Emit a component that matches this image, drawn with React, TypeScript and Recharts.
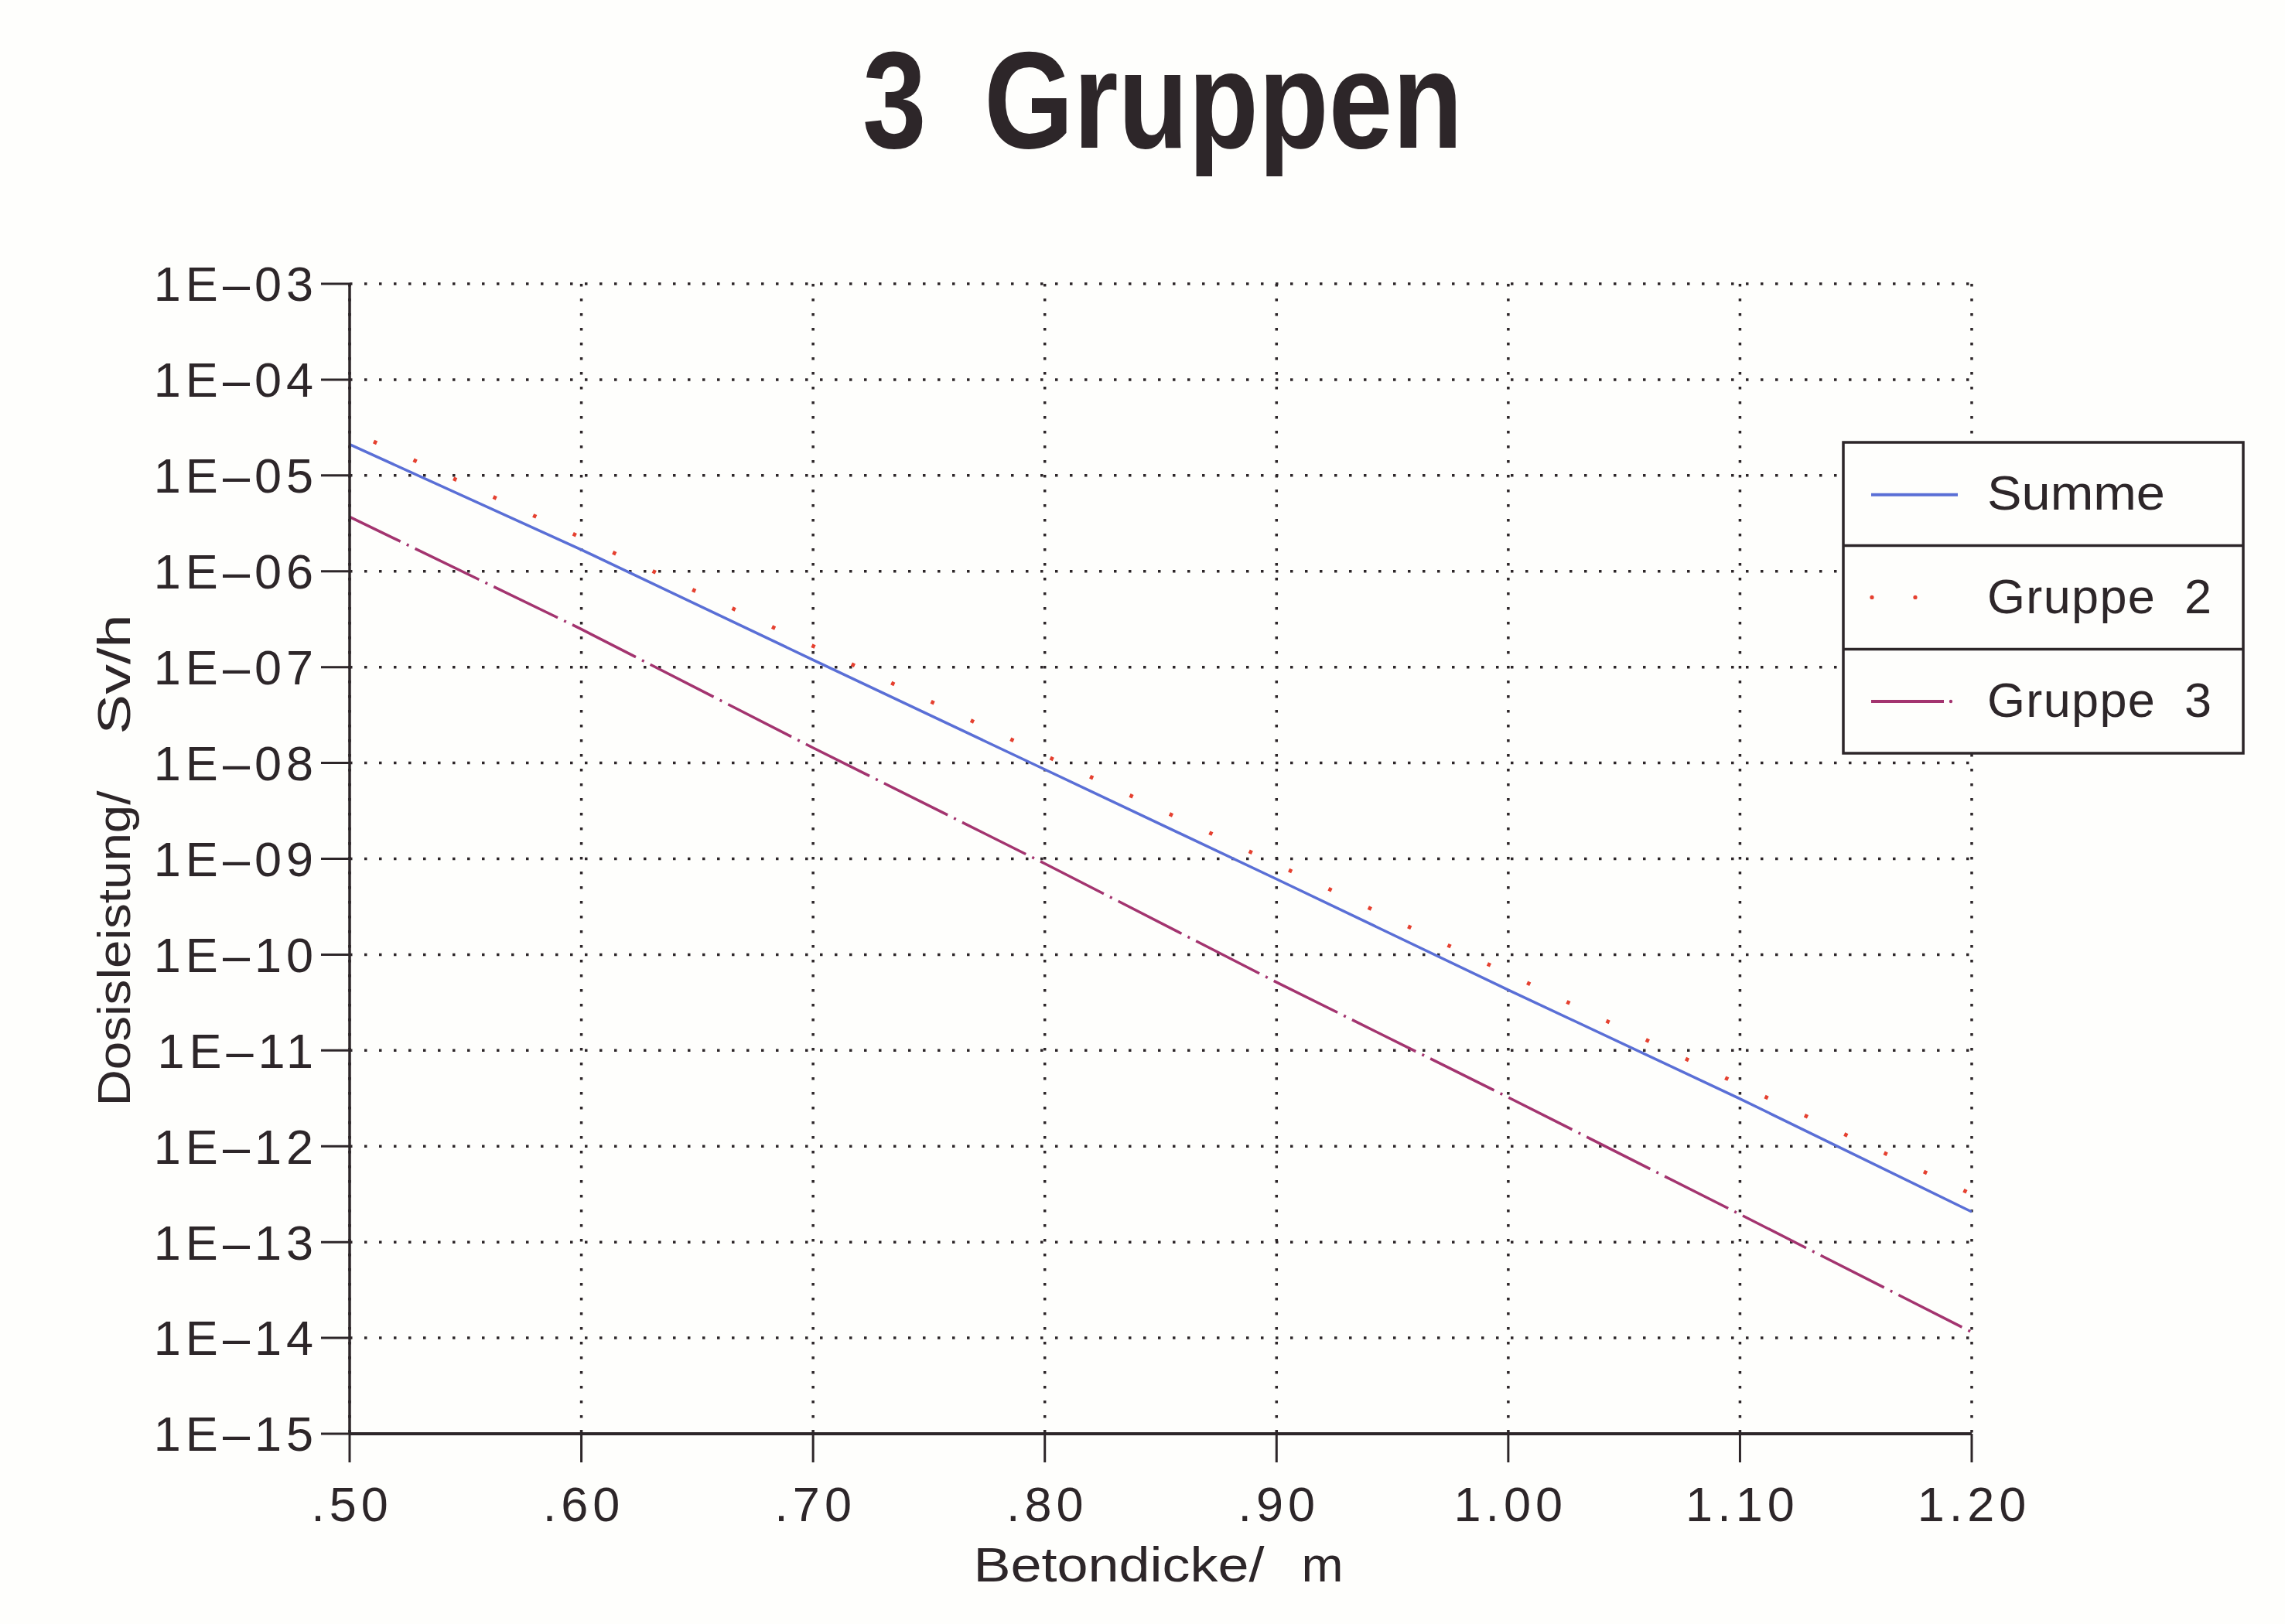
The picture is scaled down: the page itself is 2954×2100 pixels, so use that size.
import React from "react";
import {
  LineChart,
  Line,
  XAxis,
  YAxis,
  CartesianGrid,
  Legend,
  Label,
} from "recharts";

// Betondicke in m
const thickness = [0.5, 0.6, 0.7, 0.8, 0.9, 1.0, 1.1, 1.2];
// Dosisleistung in Sv/h
const summe = [2.11e-5, 1.68e-6, 1.19e-7, 8.55e-9, 6.14e-10, 4.28e-11, 3.13e-12, 2.07e-13];
const gruppe2 = [2.95e-5, 2.24e-6, 1.66e-7, 1.2e-8, 8.77e-10, 6.31e-11, 4.37e-12, 3.16e-13];
const gruppe3 = [3.7e-6, 2.49e-7, 1.44e-8, 8.91e-10, 5.15e-11, 3.24e-12, 1.95e-13, 1.15e-14];

const seriesNames = ["Summe", "Gruppe 2", "Gruppe 3"];

const xTicks = [0.5, 0.6, 0.7, 0.8, 0.9, 1.0, 1.1, 1.2];
const xTickLabels = [".50", ".60", ".70", ".80", ".90", "1.00", "1.10", "1.20"];

const yTicks = [1e-3, 1e-4, 1e-5, 1e-6, 1e-7, 1e-8, 1e-9, 1e-10, 1e-11, 1e-12, 1e-13, 1e-14, 1e-15];
const yTickLabels = [
  "1E–03", "1E–04", "1E–05", "1E–06", "1E–07", "1E–08", "1E–09",
  "1E–10", "1E–11", "1E–12", "1E–13", "1E–14", "1E–15",
];

const data = thickness.map((x, i) => ({
  x,
  summe: summe[i],
  gruppe2: gruppe2[i],
  gruppe3: gruppe3[i],
}));

const INK = "#2d2629";
const BLUE = "#5a6fd6";
const RED = "#e5402f";
const PURPLE = "#a3346f";
const FONT = "'Liberation Sans', Arial, sans-serif";

const labelFor = (ticks: number[], labels: string[], v: number) => {
  const i = ticks.findIndex((t) => Math.abs(Math.log10(t) - Math.log10(v)) < 1e-6);
  return i >= 0 ? labels[i] : String(v);
};

const YTick = (props: any) => {
  const { x, y, payload } = props;
  return (
    <text x={x} y={y} dy="0.355em" textAnchor="end" fontFamily={FONT} fontSize={63} letterSpacing={6} fill={INK}>
      {labelFor(yTicks, yTickLabels, payload.value)}
    </text>
  );
};

const XTick = (props: any) => {
  const { x, y, payload } = props;
  const i = xTicks.findIndex((t) => Math.abs(t - payload.value) < 1e-9);
  return (
    <text x={x + 3} y={y} dy="0.71em" textAnchor="middle" fontFamily={FONT} fontSize={63} letterSpacing={6} fill={INK}>
      {i >= 0 ? xTickLabels[i] : payload.value}
    </text>
  );
};

const XTitle = (props: any) => {
  const vb = props.viewBox || { x: 452, y: 1854, width: 2097, height: 246 };
  const cx = vb.x + vb.width / 2;
  const base = vb.y + 191;
  return (
    <text fontFamily={FONT} fontSize={63} fill={INK}>
      <tspan x={cx - 242} y={base} textLength={376} lengthAdjust="spacingAndGlyphs">Betondicke/</tspan>
      <tspan x={cx + 182} y={base} textLength={54} lengthAdjust="spacingAndGlyphs">m</tspan>
    </text>
  );
};

const YTitle = (props: any) => {
  const vb = props.viewBox || { x: 0, y: 367, width: 452, height: 1487 };
  const cy = vb.y + vb.height / 2;
  const bx = 168;
  return (
    <text transform={`rotate(-90 ${bx} ${cy})`} fontFamily={FONT} fontSize={60} fill={INK}>
      <tspan x={bx - 320} y={cy} textLength={408} lengthAdjust="spacingAndGlyphs">Dosisleistung/</tspan>
      <tspan x={bx + 161} y={cy} textLength={155} lengthAdjust="spacingAndGlyphs">Sv/h</tspan>
    </text>
  );
};

const LegendBox = () => (
  <svg width={522} height={406} style={{ display: "block" }}>
    <rect x={2} y={2} width={517} height={402} fill="#fefefc" stroke={INK} strokeWidth={3.5} />
    <line x1={2} x2={519} y1={135.4} y2={135.4} stroke={INK} strokeWidth={3.5} />
    <line x1={2} x2={519} y1={269.5} y2={269.5} stroke={INK} strokeWidth={3.5} />
    <line x1={38} x2={150} y1={69.7} y2={69.7} stroke={BLUE} strokeWidth={4} />
    <circle cx={39} cy={202.4} r={2.6} fill={RED} />
    <circle cx={95} cy={202.4} r={2.6} fill={RED} />
    <line x1={38} x2={132} y1={337} y2={337} stroke={PURPLE} strokeWidth={4} />
    <circle cx={141} cy={337} r={2.2} fill={PURPLE} />
    <text x={188} y={89} fontFamily={FONT} fontSize={63} fill={INK} textLength={230} lengthAdjust="spacingAndGlyphs">
      {seriesNames[0]}
    </text>
    <text x={188} y={223} fontFamily={FONT} fontSize={63} fill={INK} textLength={290} lengthAdjust="spacing" wordSpacing={18}>
      {seriesNames[1]}
    </text>
    <text x={188} y={357} fontFamily={FONT} fontSize={63} fill={INK} textLength={290} lengthAdjust="spacing" wordSpacing={18}>
      {seriesNames[2]}
    </text>
  </svg>
);

export default function App() {
  return (
    <div style={{ position: "absolute", left: 0, top: 0, width: 2954, height: 2100, background: "#fefefc" }}>
      <LineChart width={2954} height={2100} data={data} margin={{ top: 367, right: 405, bottom: 0, left: 0 }}>
        <CartesianGrid stroke={INK} strokeWidth={3.5} strokeDasharray="3.5 15.5" />
        <XAxis
          dataKey="x"
          type="number"
          domain={[0.5, 1.2]}
          ticks={xTicks}
          interval={0}
          height={246}
          tickSize={37}
          tickMargin={31}
          tick={<XTick />}
          axisLine={{ stroke: INK, strokeWidth: 4 }}
          tickLine={{ stroke: INK, strokeWidth: 3 }}
        >
          <Label content={<XTitle />} />
        </XAxis>
        <YAxis
          type="number"
          scale="log"
          domain={[1e-15, 1e-3]}
          allowDataOverflow
          ticks={yTicks}
          interval={0}
          width={452}
          tickSize={37}
          tickMargin={4}
          tick={<YTick />}
          axisLine={{ stroke: INK, strokeWidth: 3.5 }}
          tickLine={{ stroke: INK, strokeWidth: 3 }}
        >
          <Label content={<YTitle />} />
        </YAxis>
        <Legend
          layout="horizontal"
          verticalAlign="middle"
          align="center"
          content={() => <LegendBox />}
          wrapperStyle={{ position: "absolute", left: 2381, top: 570, width: 522, height: 406 }}
        />
        <Line
          name={seriesNames[0]}
          dataKey="summe"
          type="linear"
          stroke={BLUE}
          strokeWidth={3.5}
          dot={false}
          activeDot={false}
          isAnimationActive={false}
        />
        <Line
          name={seriesNames[1]}
          dataKey="gruppe2"
          type="linear"
          stroke={RED}
          strokeWidth={5}
          strokeDasharray="4.5 52.3"
          strokeDashoffset={22.6}
          dot={false}
          activeDot={false}
          isAnimationActive={false}
        />
        <Line
          name={seriesNames[2]}
          dataKey="gruppe3"
          type="linear"
          stroke={PURPLE}
          strokeWidth={3.5}
          strokeDasharray="92 9 3 9"
          strokeDashoffset={19}
          dot={false}
          activeDot={false}
          isAnimationActive={false}
        />
      </LineChart>
      <svg width={2954} height={260} style={{ position: "absolute", left: 0, top: 0, pointerEvents: "none" }}>
        <text
          x={1503}
          y={191}
          textAnchor="middle"
          fontFamily={FONT}
          fontWeight="bold"
          fontSize={178}
          textLength={776}
          lengthAdjust="spacingAndGlyphs"
          wordSpacing={40}
          fill={INK}
        >
          3 Gruppen
        </text>
      </svg>
    </div>
  );
}
